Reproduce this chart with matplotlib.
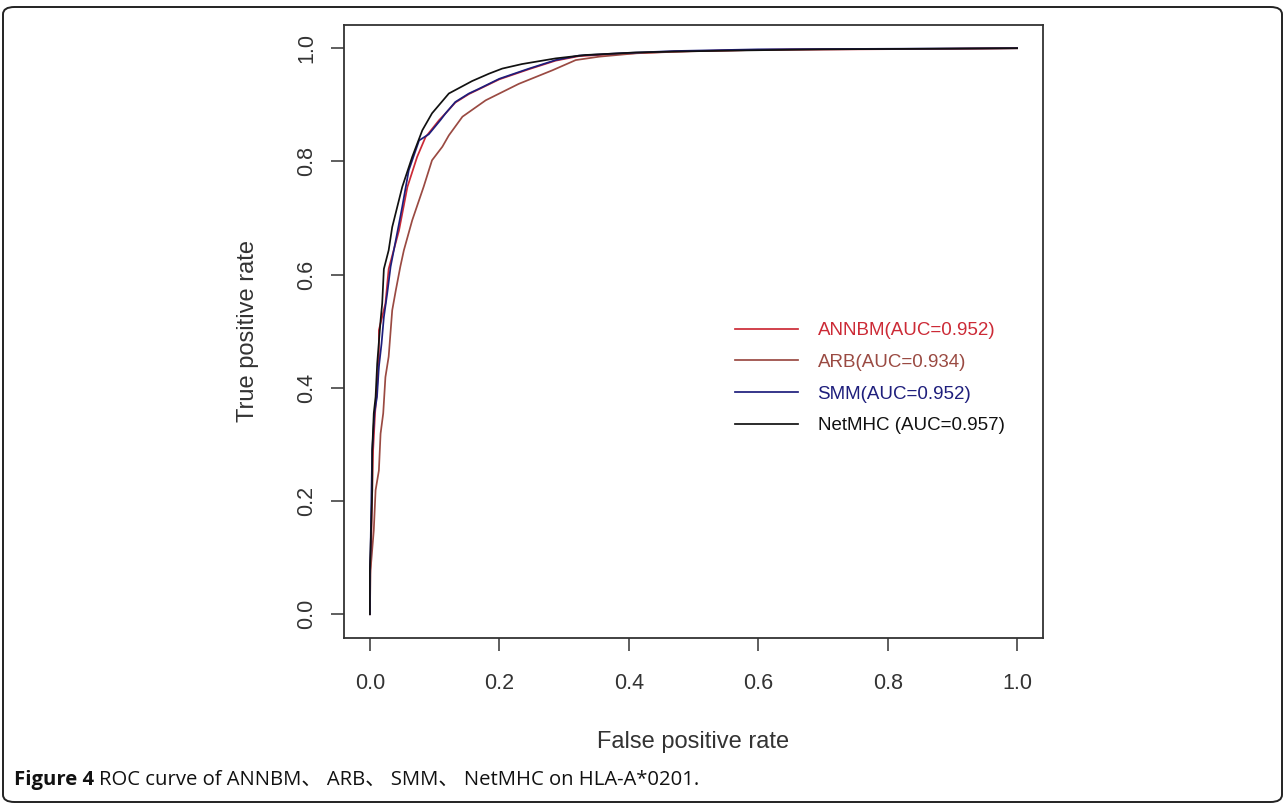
"""
ROC curves of ANNBM, ARB, SMM and NetMHC on HLA-A*0201
"""

import matplotlib
matplotlib.use("Agg")
import matplotlib.pyplot as plt
from matplotlib.patches import FancyBboxPatch

# (FPR, TPR) points, one list per method
annbm_fpr = [0, 0.0, 0.002, 0.0036, 0.005, 0.008, 0.011, 0.0139, 0.0139, 0.024, 0.029,
             0.045, 0.058, 0.073, 0.086, 0.107, 0.117, 0.132, 0.153, 0.2, 0.246, 0.287,
             0.323, 0.385, 0.47, 0.60, 0.90, 1.0]
annbm_tpr = [0, 0.06, 0.12, 0.22, 0.29, 0.355, 0.40, 0.45, 0.502, 0.549, 0.610,
             0.678, 0.755, 0.808, 0.843, 0.873, 0.885, 0.904, 0.919, 0.945, 0.963, 0.978,
             0.986, 0.990, 0.994, 0.997, 0.999, 1.0]

arb_fpr = [0, 0.001, 0.006, 0.0088, 0.0139, 0.0165, 0.0206, 0.024, 0.029, 0.0345, 0.040,
           0.047, 0.0525, 0.0654, 0.083, 0.096, 0.112, 0.122, 0.143, 0.179, 0.230, 0.282,
           0.318, 0.354, 0.411, 0.50, 0.65, 0.90, 1.0]
arb_tpr = [0, 0.078, 0.148, 0.219, 0.254, 0.319, 0.355, 0.419, 0.455, 0.537, 0.572,
           0.614, 0.643, 0.696, 0.755, 0.802, 0.826, 0.846, 0.879, 0.908, 0.937, 0.961,
           0.979, 0.985, 0.991, 0.995, 0.998, 0.999, 1.0]

smm_fpr = [0, 0, 0.001, 0.0025, 0.0036, 0.007, 0.011, 0.0139, 0.018, 0.0216, 0.0268,
           0.032, 0.045, 0.050, 0.060, 0.076, 0.091, 0.109, 0.117, 0.132, 0.153, 0.168,
           0.2, 0.246, 0.287, 0.323, 0.385, 0.47, 0.60, 0.80, 1.0]
smm_tpr = [0, 0.078, 0.114, 0.219, 0.290, 0.355, 0.384, 0.437, 0.478, 0.525, 0.567,
           0.614, 0.690, 0.720, 0.784, 0.837, 0.848, 0.873, 0.885, 0.905, 0.920, 0.928,
           0.946, 0.964, 0.979, 0.987, 0.991, 0.995, 0.998, 0.999, 1.0]

netmhc_fpr = [0, 0, 0.002, 0.0036, 0.0036, 0.006, 0.0088, 0.0113, 0.0165, 0.019, 0.0216,
              0.029, 0.0345, 0.050, 0.0654, 0.081, 0.096, 0.122, 0.158, 0.184, 0.2045,
              0.235, 0.287, 0.333, 0.411, 0.467, 0.570, 0.70, 1.0]
netmhc_tpr = [0, 0.078, 0.154, 0.219, 0.290, 0.355, 0.384, 0.443, 0.519, 0.549, 0.610,
              0.643, 0.684, 0.755, 0.808, 0.855, 0.885, 0.920, 0.942, 0.955, 0.964,
              0.972, 0.982, 0.988, 0.9925, 0.994, 0.996, 0.998, 1.0]

labels = ["ANNBM(AUC=0.952)", "ARB(AUC=0.934)", "SMM(AUC=0.952)", "NetMHC (AUC=0.957)"]
colors = ["#cc2a36", "#9a4a42", "#1e1e7c", "#111111"]

xticks = [0.0, 0.2, 0.4, 0.6, 0.8, 1.0]
yticks = [0.0, 0.2, 0.4, 0.6, 0.8, 1.0]

W, H = 1285, 805
fig = plt.figure(figsize=(W / 100, H / 100), dpi=100)

# axes box in pixels: left 344, right 1043, top 25, bottom 638
ax = fig.add_axes([344 / W, 1 - 638 / H, (1043 - 344) / W, (638 - 25) / H])

curves = [(annbm_fpr, annbm_tpr), (arb_fpr, arb_tpr), (smm_fpr, smm_tpr), (netmhc_fpr, netmhc_tpr)]
handles = []
for (fx, fy), lab, col in zip(curves, labels, colors):
    ln, = ax.plot(fx, fy, color=col, lw=1.25, label=lab)
    handles.append(ln)

ax.set_xlim(-0.04, 1.04)
ax.set_ylim(-0.042, 1.041)
ax.set_xticks(xticks)
ax.set_yticks(yticks)
ax.set_xticklabels([f"{v:.1f}" for v in xticks])
ax.set_yticklabels([f"{v:.1f}" for v in yticks], rotation=90, va="center")

txt_col = "#333333"
for s in ax.spines.values():
    s.set_color("#333333")
    s.set_linewidth(1.3)
ax.tick_params(axis="both", direction="out", length=9.5, width=1.1, color="#333333",
               labelsize=15.5, labelcolor=txt_col)
ax.tick_params(axis="x", pad=16)
ax.tick_params(axis="y", pad=10)
for t in ax.get_xticklabels() + ax.get_yticklabels():
    t.set_family("Liberation Sans")

ax.set_xlabel("False positive rate", fontsize=17, family="Liberation Sans", color=txt_col, va="center")
ax.set_ylabel("True positive rate", fontsize=17, family="Liberation Sans", color=txt_col, va="center")
ax.xaxis.set_label_coords(0.5, (638 - 742) / (638 - 25))
ax.yaxis.set_label_coords((248 - 344) / (1043 - 344), 0.5)

leg = ax.legend(handles=handles, loc="upper left", bbox_to_anchor=(735 / W, 1 - 322 / H),
                bbox_transform=fig.transFigure, frameon=False, borderpad=0, borderaxespad=0,
                handlelength=3.35, handletextpad=1.05, labelspacing=0.78,
                prop={"family": "Liberation Sans", "size": 13.5}, labelcolor=colors)

# outer rounded frame
frame = FancyBboxPatch((3 / W, 3 / H), (1282 - 3) / W, (801 - 6) / H,
                       boxstyle="round,pad=0,rounding_size=0.009",
                       transform=fig.transFigure, fill=False, edgecolor="#222222", lw=1.4)
fig.patches.append(frame)

# caption
cap_fam = ["Open Sans", "Noto Sans CJK SC"]
t1 = fig.text(14 / W, 1 - 785 / H, "Figure 4", fontsize=14.6, fontweight="bold",
              family=cap_fam, va="baseline", ha="left", color="#111111")
fig.canvas.draw()
bb = t1.get_window_extent()
fig.text((bb.x1 + 5) / W, 1 - 785 / H, "ROC curve of ANNBM、 ARB、 SMM、 NetMHC on HLA-A*0201.",
         fontsize=14.6, family=cap_fam, va="baseline", ha="left", color="#111111")

fig.savefig("out.png", dpi=100)
